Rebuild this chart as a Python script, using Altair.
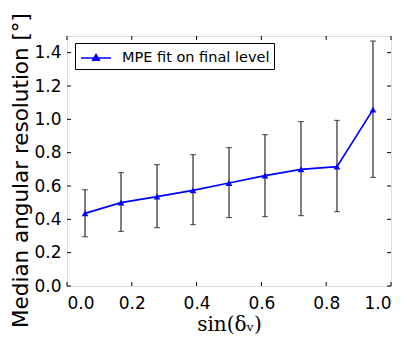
import altair as alt
import pandas as pd

# Data
sin_dec = [0.0556, 0.1667, 0.2778, 0.3889, 0.5, 0.6111, 0.7222, 0.8333, 0.9444]
median_res = [0.436, 0.500, 0.536, 0.574, 0.618, 0.662, 0.700, 0.716, 1.058]
err_low = [0.296, 0.328, 0.350, 0.368, 0.410, 0.416, 0.422, 0.446, 0.652]
err_high = [0.578, 0.680, 0.728, 0.788, 0.830, 0.908, 0.986, 0.994, 1.470]
series_name = "MPE fit on final level"

x_ticks = [0.0, 0.2, 0.4, 0.6, 0.8, 1.0]
y_ticks = [0.0, 0.2, 0.4, 0.6, 0.8, 1.0, 1.2, 1.4]

W, H = 324, 250

df = pd.DataFrame({
    "x": sin_dec, "y": median_res, "lo": err_low, "hi": err_high,
    "series": [series_name] * len(sin_dec),
})
xt = pd.DataFrame({"t": x_ticks})
yt = pd.DataFrame({"t": y_ticks})

xscale = alt.Scale(domain=[0, 1], nice=False, zero=False)
yscale = alt.Scale(domain=[0, 1.5], nice=False, zero=False)

xaxis = alt.Axis(values=x_ticks, tickCount=6, format=".1f", ticks=False, domain=False,
                 grid=False, labelFont="DejaVu Sans", labelFontSize=17,
                 labelColor="black", labelPadding=9, labelOverlap=False,
                 title="sin(δᵥ)", titleFont="DejaVu Serif", titleFontSize=20,
                 titleFontWeight="normal", titleColor="black", titlePadding=3)
yaxis = alt.Axis(values=y_ticks, tickCount=8, format=".1f", ticks=False, domain=False,
                 grid=False, labelFont="DejaVu Sans", labelFontSize=17,
                 labelColor="black", labelPadding=6, labelOverlap=False,
                 title="Median angular resolution [°]",
                 titleFont="DejaVu Sans", titleFontSize=21.5, titleFontWeight="normal",
                 titleColor="black", titleAngle=270, titleX=-46, titleY=134,
                 titleAlign="center", titleBaseline="middle")

base = alt.Chart(df)

err_rule = base.mark_rule(color="black", strokeWidth=1).encode(
    x=alt.X("x:Q", scale=xscale, axis=xaxis),
    y=alt.Y("lo:Q", scale=yscale, axis=yaxis),
    y2="hi:Q",
)
cap_lo = base.mark_tick(color="black", orient="horizontal", size=6, thickness=1).encode(
    x=alt.X("x:Q", axis=xaxis), y=alt.Y("lo:Q", axis=yaxis))
cap_hi = base.mark_tick(color="black", orient="horizontal", size=6, thickness=1).encode(
    x=alt.X("x:Q", axis=xaxis), y=alt.Y("hi:Q", axis=yaxis))

line = base.mark_line(strokeWidth=1.7).encode(
    x=alt.X("x:Q", axis=xaxis), y=alt.Y("y:Q", axis=yaxis),
    color=alt.Color("series:N", scale=alt.Scale(range=["#0000ff"]),
                    legend=alt.Legend(
                        title=None, orient="none", legendX=8, legendY=7,
                        symbolType="M-1.5,0H1.5M0,-0.36L0.33,0.22L-0.33,0.22Z",
                        symbolSize=400, symbolStrokeWidth=1.5,
                        symbolFillColor="#0000ff", symbolStrokeColor="#0000ff",
                        labelFont="DejaVu Sans", labelFontSize=14.5, labelColor="black",
                        labelOffset=15, padding=4, strokeColor="black",
                        fillColor="white", cornerRadius=0, symbolOffset=6,
                        labelLimit=300)),
)
pts = base.mark_point(shape="triangle-up", filled=True, size=45, color="#0000ff",
                      opacity=1).encode(x=alt.X("x:Q", axis=xaxis),
                                        y=alt.Y("y:Q", axis=yaxis))

tl = alt.Chart(yt).mark_rule(color="black", strokeWidth=1).encode(
    y=alt.Y("t:Q", axis=yaxis), x=alt.value(0), x2=alt.value(4))
tr = alt.Chart(yt).mark_rule(color="black", strokeWidth=1).encode(
    y=alt.Y("t:Q", axis=yaxis), x=alt.value(W - 4), x2=alt.value(W))
tb = alt.Chart(xt).mark_rule(color="black", strokeWidth=1).encode(
    x=alt.X("t:Q", axis=xaxis), y=alt.value(H - 4), y2=alt.value(H))
tt = alt.Chart(xt).mark_rule(color="black", strokeWidth=1).encode(
    x=alt.X("t:Q", axis=xaxis), y=alt.value(0), y2=alt.value(4))

chart = alt.layer(err_rule, cap_lo, cap_hi, line, pts, tl, tr, tb, tt).properties(
    width=W, height=H,
    autosize=alt.AutoSizeParams(type="none"),
    padding={"left": 59, "top": 28, "right": 8, "bottom": 50},
).configure_view(stroke="black", strokeWidth=1.2).configure_axis(
    labelOverlap=False
).configure(background="white")

chart.save("out.html", embed_options={"renderer": "svg", "actions": False})
